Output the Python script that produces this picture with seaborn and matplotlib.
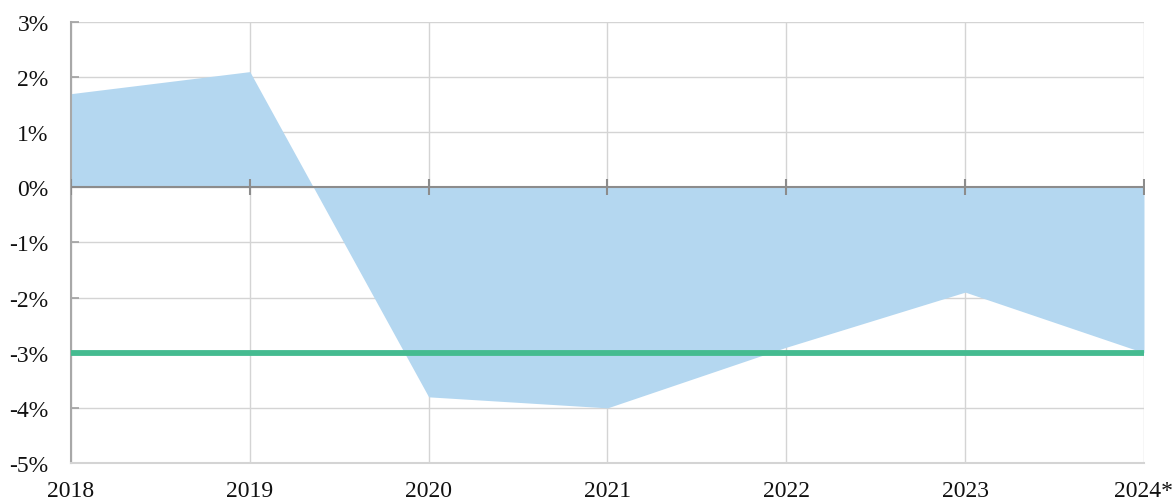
import matplotlib
matplotlib.use("Agg")
import matplotlib.pyplot as plt
import seaborn as sns
import pandas as pd
import numpy as np

years = ["2018", "2019", "2020", "2021", "2022", "2023", "2024*"]
balance = [1.7, 2.1, -3.8, -4.0, -2.9, -1.9, -3.0]
threshold = [-3.0, -3.0, -3.0, -3.0, -3.0, -3.0, -3.0]
y_ticks = [3, 2, 1, 0, -1, -2, -3, -4, -5]

sns.set_theme(style="white")
plt.rcParams['font.family'] = ['Liberation Serif', 'DejaVu Serif']

df = pd.DataFrame({"pos": np.arange(len(years)), "year": years,
                   "balance": balance, "threshold": threshold})

fig = plt.figure(figsize=(11.75, 5.02), dpi=100)
ax = fig.add_axes([0.0604, 0.0757, 0.9132, 0.8785])

ax.fill_between(df["pos"], 0, df["balance"], color="#b4d7f0", linewidth=0, zorder=2)
sns.lineplot(data=df, x="pos", y="threshold", ax=ax, color="#45bb90", linewidth=4.2,
             zorder=4, legend=False)
ax.axhline(0, color="#8c8c8c", linewidth=1.5, zorder=3)
ax.plot(df["pos"], [0] * len(df), linestyle="none", marker="|", markersize=11,
        markeredgewidth=1.5, color="#8c8c8c", zorder=3)

ax.set_xlim(0, len(years) - 1)
ax.set_ylim(-5, 3)
ax.set_xticks(df["pos"])
ax.set_xticklabels(years)
ax.set_yticks(y_ticks)
ax.set_yticklabels([f"{v}%" for v in y_ticks])
ax.set_xlabel("")
ax.set_ylabel("")

ax.grid(True, color="#d4d4d4", linewidth=1, zorder=1)
ax.set_axisbelow(True)
for s in ["top", "right"]:
    ax.spines[s].set_visible(False)
ax.spines["left"].set_color("#a8a8a8")
ax.spines["left"].set_linewidth(1.5)
ax.spines["bottom"].set_color("#d4d4d4")
ax.spines["bottom"].set_linewidth(1.5)

ax.tick_params(axis="y", direction="in", length=6, width=1.2, color="#a0a0a0",
               labelsize=17, pad=16, left=True)
ax.tick_params(axis="x", length=0, labelsize=17, pad=12, colors="black")
for lab in ax.get_yticklabels() + ax.get_xticklabels():
    lab.set_color("#111111")

fig.savefig("out.png", dpi=100, facecolor="white")
